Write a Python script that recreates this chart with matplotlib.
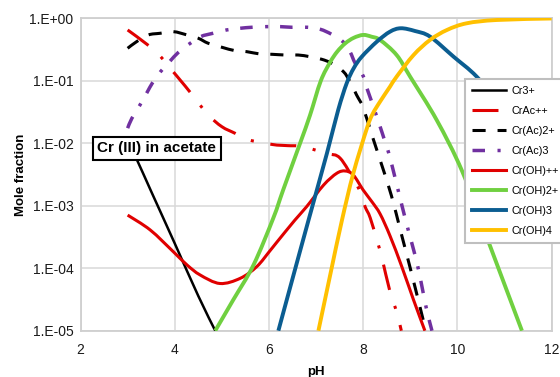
import matplotlib
matplotlib.use("Agg")
import matplotlib.pyplot as plt
from matplotlib.ticker import FixedLocator, NullLocator
from matplotlib.path import Path
from matplotlib.patches import PathPatch
from matplotlib.lines import Line2D
import numpy as np

plt.rcParams['font.family'] = ['Liberation Sans', 'DejaVu Sans']

# Cr(III) speciation in acetate solution, mole fraction vs pH
ph_cr3 = [3.0, 3.2, 3.5, 4.0, 4.5, 4.86]
cr3 = [1.1e-2, 5.4e-3, 1.7e-3, 2.5e-4, 3.6e-5, 1.0e-5]

ph_crac = [3.0, 3.41, 3.67, 3.86, 4.22, 4.41, 4.71, 5.0, 5.28, 5.53, 6.07, 6.39,
           6.70, 7.23, 7.51, 7.83, 7.93, 8.04, 8.15, 8.32, 8.40, 8.57, 8.71, 8.81]
crac = [0.655, 0.386, 0.260, 0.175, 0.083, 0.0547, 0.0285, 0.0185, 0.0145, 0.0116,
        0.0096, 0.0092, 0.0089, 0.0069, 0.0058, 0.0024, 0.0017, 9.7e-4, 6.4e-4,
        2.4e-4, 1.45e-4, 4.2e-5, 2.0e-5, 1.0e-5]

ph_crac2 = [3.0, 3.19, 3.44, 3.69, 3.97, 4.26, 4.50, 4.71, 5.0, 5.28, 5.53, 5.81,
            6.06, 6.34, 6.62, 6.87, 7.12, 7.33, 7.58, 7.72, 7.86, 8.0, 8.2, 8.4,
            8.6, 8.8, 9.0, 9.2, 9.33]
crac2 = [0.333, 0.425, 0.545, 0.579, 0.615, 0.545, 0.482, 0.401, 0.346, 0.305,
         0.294, 0.270, 0.267, 0.260, 0.260, 0.244, 0.222, 0.192, 0.141, 0.0973,
         0.0596, 0.0372, 0.0126, 0.00437, 0.00145, 3.8e-4, 1.0e-4, 2.5e-5, 1.0e-5]

ph_crac3 = [3.0, 3.09, 3.25, 3.41, 3.53, 3.70, 3.89, 4.08, 4.31, 4.55, 4.81, 5.10,
            5.39, 5.64, 5.95, 6.24, 6.48, 6.82, 7.09, 7.33, 7.57, 7.72, 7.83, 8.0,
            8.08, 8.18, 8.36, 8.44, 8.54, 8.68, 8.82, 8.96, 9.10, 9.21, 9.34, 9.46]
crac3 = [0.0175, 0.0252, 0.0397, 0.0649, 0.0938, 0.141, 0.203, 0.288, 0.391,
         0.512, 0.579, 0.655, 0.697, 0.723, 0.740, 0.740, 0.723, 0.723, 0.671,
         0.558, 0.425, 0.294, 0.192, 0.120, 0.0762, 0.0466, 0.0185, 0.0121,
         0.0071, 0.00276, 0.00103, 4.0e-4, 1.63e-4, 7.1e-5, 2.3e-5, 1.0e-5]

ph_croh = [3.0, 3.48, 3.97, 4.26, 4.54, 4.96, 5.39, 5.74, 6.02, 6.17, 6.55, 6.80,
           7.16, 7.44, 7.62, 7.79, 8.0, 8.19, 8.36, 8.57, 8.82, 9.07, 9.31]
croh = [7.1e-4, 4.1e-4, 1.84e-4, 1.13e-4, 7.8e-5, 5.7e-5, 6.9e-5, 1.06e-4, 1.9e-4,
        2.63e-4, 5.9e-4, 9.7e-4, 2.15e-3, 3.32e-3, 3.61e-3, 3.12e-3, 1.79e-3,
        1.15e-3, 7.4e-4, 3.3e-4, 1.06e-4, 3.1e-5, 1.0e-5]

ph_croh2 = [4.86, 5.24, 5.67, 6.09, 6.30, 6.66, 6.87, 7.10, 7.30, 7.45, 7.62, 7.80,
            8.0, 8.18, 8.36, 8.71, 9.0, 9.56, 10.1, 10.62, 11.37]
croh2 = [1.0e-5, 3.1e-5, 1.12e-4, 6.3e-4, 1.78e-3, 0.010, 0.028, 0.10, 0.20,
         0.295, 0.40, 0.49, 0.545, 0.51, 0.452, 0.26, 0.116, 0.0237,
         3.6e-3, 3.2e-4, 1.0e-5]

ph_croh3 = [6.2, 6.5, 6.84, 7.23, 7.47, 7.65, 7.8, 7.97, 8.29, 8.57, 8.8, 9.1, 9.42,
            9.92, 10.41, 11.0, 11.5, 12.0]
croh3 = [1.0e-5, 6.8e-5, 5.9e-4, 6.9e-3, 0.0343, 0.0916, 0.16, 0.244, 0.425, 0.615,
         0.697, 0.63, 0.512, 0.244, 0.117, 0.035, 0.011, 0.0035]

ph_croh4 = [7.05, 7.3, 7.55, 7.79, 8.08, 8.2, 8.36, 8.57, 8.71, 9.07, 9.42, 9.78,
            10.2, 10.84, 12.0]
croh4 = [1.0e-5, 7.8e-5, 5.9e-4, 3.3e-3, 0.0175, 0.0295, 0.0468, 0.081, 0.117, 0.26,
         0.453, 0.655, 0.838, 0.946, 1.0]

x_ticks = [2, 4, 6, 8, 10, 12]
y_ticks = [1e-5, 1e-4, 1e-3, 1e-2, 1e-1, 1e0]
y_tick_labels = ['1.E-05', '1.E-04', '1.E-03', '1.E-02', '1.E-01', '1.E+00']


def smooth_path(x, y):
    # smoothed line like a spreadsheet chart: cubic Bezier segments through
    # the points, control points picked in (pH, log10) space
    px = np.asarray(x, float)
    py = np.log10(np.asarray(y, float))
    n = len(px)
    verts = [(px[0], 10 ** py[0])]
    codes = [Path.MOVETO]
    for i in range(n - 1):
        i0 = max(i - 1, 0)
        i3 = min(i + 2, n - 1)
        c1x = px[i] + (px[i + 1] - px[i0]) / 6
        c1y = py[i] + (py[i + 1] - py[i0]) / 6
        c2x = px[i + 1] - (px[i3] - px[i]) / 6
        c2y = py[i + 1] - (py[i3] - py[i]) / 6
        verts += [(c1x, 10 ** c1y), (c2x, 10 ** c2y), (px[i + 1], 10 ** py[i + 1])]
        codes += [Path.CURVE4] * 3
    return Path(verts, codes)


fig = plt.figure(figsize=(5.6, 3.77), dpi=100)
ax = fig.add_axes([0.1438, 0.1228, 0.8412, 0.8282])
ax.set_yscale('log')
ax.set_xlim(2, 12)
ax.set_ylim(1e-5, 1)

series = [
    (ph_cr3, cr3, 'Cr3+', dict(color='black', lw=1.8, ls='-')),
    (ph_crac, crac, 'CrAc++', dict(color='#e00000', lw=2.2, ls=(0, (8.5, 5.5, 1, 5.5)))),
    (ph_crac2, crac2, 'Cr(Ac)2+', dict(color='black', lw=2.2, ls=(0, (4.3, 3.9)))),
    (ph_crac3, crac3, 'Cr(Ac)3', dict(color='#7030a0', lw=2.5, ls=(0, (3.6, 3.6, 0.9, 3.4)))),
    (ph_croh, croh, 'Cr(OH)++', dict(color='#e00000', lw=2.2, ls='-')),
    (ph_croh2, croh2, 'Cr(OH)2+', dict(color='#70d040', lw=2.8, ls='-')),
    (ph_croh3, croh3, 'Cr(OH)3', dict(color='#0b5d91', lw=2.8, ls='-')),
    (ph_croh4, croh4, 'Cr(OH)4', dict(color='#ffc000', lw=2.8, ls='-')),
]

handles = []
for xs, ys, name, st in series:
    patch = PathPatch(smooth_path(xs, ys), fill=False, edgecolor=st['color'],
                      lw=st['lw'], linestyle=st['ls'], capstyle='butt',
                      joinstyle='round', zorder=3)
    ax.add_patch(patch)
    handles.append(Line2D([], [], color=st['color'], lw=st['lw'],
                          linestyle=st['ls'], dash_capstyle='butt', label=name))

ax.set_xticks(x_ticks)
ax.yaxis.set_major_locator(FixedLocator(y_ticks))
ax.yaxis.set_minor_locator(NullLocator())
ax.set_yticklabels(y_tick_labels)
ax.tick_params(axis='both', length=0, labelsize=10, colors='#1a1a1a')
ax.tick_params(axis='x', pad=8.5)
ax.tick_params(axis='y', pad=5)
ax.grid(True, color='#d9d9d9', lw=1.1)
ax.set_axisbelow(True)
for s in ax.spines.values():
    s.set_color('#cfcfcf')
    s.set_linewidth(1.3)

ax.set_xlabel('pH', fontsize=9.5, fontweight='bold', labelpad=7)
ax.set_ylabel('Mole fraction', fontsize=9.5, fontweight='bold', labelpad=2)

ax.text(0.162, 0.584, 'Cr (III) in acetate', transform=ax.transAxes,
        ha='center', va='center', fontsize=11, fontweight='bold', zorder=5,
        bbox=dict(boxstyle='square,pad=0.3', fc='white', ec='black', lw=1.5))

leg = ax.legend(handles=handles, loc='upper left',
                bbox_to_anchor=(465 / 560, 1 - 79 / 377),
                bbox_transform=fig.transFigure, borderaxespad=0, fontsize=7.8,
                handlelength=3.2, handletextpad=0.45, labelspacing=0.93,
                borderpad=0.6, fancybox=False, framealpha=1, edgecolor='#bfbfbf')
leg.get_frame().set_linewidth(1.5)
leg.set_zorder(10)

fig.savefig('out.png', dpi=100)
